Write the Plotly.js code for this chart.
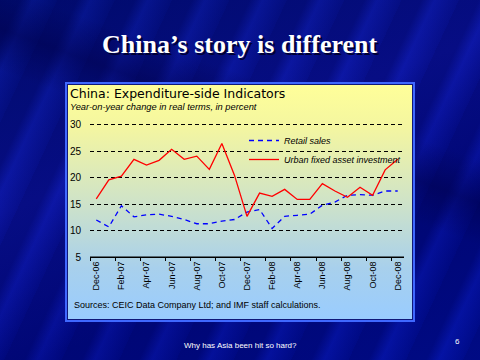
<!DOCTYPE html>
<html>
<head>
<meta charset="utf-8">
<script src="https://cdn.plot.ly/plotly-3.0.1.min.js"></script>
<style>
  html, body { margin:0; padding:0; width:480px; height:360px; overflow:hidden; }
  #slide { position:absolute; left:0; top:0; width:480px; height:360px;
    background:
      linear-gradient(200deg, rgba(0,0,60,0) 0%, rgba(0,0,60,0) 30%, rgba(0,0,70,0.45) 38%, rgba(0,0,60,0) 46%, rgba(0,0,60,0) 100%),
      repeating-linear-gradient(115deg, rgba(0,0,80,0.35) 0px, rgba(0,0,80,0.35) 18px, rgba(30,40,200,0.15) 30px, rgba(0,0,80,0.25) 52px),
      linear-gradient(160deg, #00107a 0%, #0a14a0 40%, #000a8a 70%, #0010a0 100%);
  }
  #panel { position:absolute; left:65px; top:82px; width:346px; height:236px;
    border:2px solid #3f68ff; box-shadow: inset 0 0 0 1px #10187a;
    background: linear-gradient(180deg, #ffff99 0%, #f4f6a0 18%, #cfe3c8 50%, #a8d0ec 78%, #99ccff 100%);
  }
  #chart { position:absolute; left:0; top:0; width:480px; height:360px; }
</style>
</head>
<body>
<div id="slide"></div>
<div id="panel"></div>
<div id="chart"></div>
<script>
const months = ["Dec-06","Jan-07","Feb-07","Mar-07","Apr-07","May-07","Jun-07","Jul-07","Aug-07","Sep-07","Oct-07","Nov-07","Dec-07",
                "Jan-08","Feb-08","Mar-08","Apr-08","May-08","Jun-08","Jul-08","Aug-08","Sep-08","Oct-08","Nov-08","Dec-08"];
const retailSales = [12.0,10.7,14.7,12.6,13.0,13.1,12.7,12.1,11.3,11.3,11.8,12.1,13.5,
                     14.0,10.4,12.7,12.9,13.1,14.8,15.4,16.7,16.8,16.7,17.5,17.5];
const urbanFAI = [16.0,19.6,20.3,23.5,22.4,23.3,25.4,23.5,24.1,21.6,26.5,20.5,12.7,
                  17.1,16.5,17.8,15.9,15.9,18.9,17.5,16.3,18.2,16.7,21.5,23.5];
const yTicks = [5,10,15,20,25,30];

const W = 480, H = 360;
const px = x => x / W, py = y => 1 - y / H;

const traces = [
  { x: months, y: retailSales, name: "Retail sales", type: "scatter", mode: "lines",
    line: { color: "#0000ff", width: 1.3, dash: "5px,4px" } },
  { x: months, y: urbanFAI, name: "Urban fixed asset investment", type: "scatter", mode: "lines",
    line: { color: "#ff0000", width: 1.3 } }
];

const layout = {
  width: W, height: H,
  margin: { l: 0, r: 0, t: 0, b: 0 },
  paper_bgcolor: "rgba(0,0,0,0)", plot_bgcolor: "rgba(0,0,0,0)",
  showlegend: true,
  legend: { x: px(244), y: py(126), xref: "paper", yref: "paper", xanchor: "left", yanchor: "top",
            bgcolor: "rgba(0,0,0,0)", font: { family: "Liberation Sans, Arial", size: 9, style: "italic", color: "#000" },
            itemwidth: 30, tracegroupgap: 0 },
  xaxis: {
    domain: [px(90), px(404)], type: "category", categoryorder: "array", categoryarray: months,
    range: [-0.5, 24.5], dtick: 2, tickson: "boundaries", ticks: "outside", ticklen: 3, tickcolor: "#000",
    tickangle: -90, showline: true, linecolor: "#000", linewidth: 1, showgrid: false, zeroline: false,
    tickfont: { family: "Liberation Sans, Arial", size: 9, color: "#000" }, fixedrange: true
  },
  yaxis: {
    domain: [py(257), py(121.8)], range: [5, 30.6], tickvals: yTicks, ticktext: yTicks.map(String),
    showline: false, ticks: "", showgrid: true, gridcolor: "#000", gridwidth: 1, griddash: "4px,3px",
    zeroline: false, ticklabelstandoff: 8,
    tickfont: { family: "Liberation Sans, Arial", size: 10, color: "#000" }, fixedrange: true
  },
  shapes: [
    { type: "line", xref: "paper", yref: "y", x0: px(90), x1: px(404), y0: 5, y1: 5, line: { color: "#000", width: 1 } },
    { type: "rect", layer: "between", xref: "paper", yref: "paper", x0: px(247), x1: px(406), y0: py(154), y1: py(149.5),
      fillcolor: "rgb(232,240,173)", line: { width: 0 } }
  ],
  annotations: [
    { text: "<b>China’s story is different</b>", x: px(240), y: py(44), xref: "paper", yref: "paper",
      showarrow: false, xanchor: "center", yanchor: "middle",
      font: { family: "Liberation Serif, Times New Roman", size: 26, color: "#ffffff", shadow: "2px 2px 0px #000033" } },
    { text: "China: Expenditure-side Indicators", x: px(68), y: py(94), xref: "paper", yref: "paper",
      showarrow: false, xanchor: "left", yanchor: "middle",
      font: { family: "DejaVu Sans, Verdana", size: 12.5, color: "#000" } },
    { text: "<i>Year-on-year change in real terms, in percent</i>", x: px(68), y: py(107), xref: "paper", yref: "paper",
      showarrow: false, xanchor: "left", yanchor: "middle",
      font: { family: "Liberation Sans, Arial", size: 9.3, color: "#000" } },
    { text: "Sources: CEIC Data Company Ltd; and IMF staff calculations.", x: px(72), y: py(305), xref: "paper", yref: "paper",
      showarrow: false, xanchor: "left", yanchor: "middle",
      font: { family: "Liberation Sans, Arial", size: 9, color: "#000" } },
    { text: "Why has Asia been hit so hard?", x: px(240), y: py(345), xref: "paper", yref: "paper",
      showarrow: false, xanchor: "center", yanchor: "middle",
      font: { family: "Liberation Sans, Arial", size: 8, color: "#ffffff" } },
    { text: "6", x: px(457), y: py(341), xref: "paper", yref: "paper",
      showarrow: false, xanchor: "center", yanchor: "middle",
      font: { family: "Liberation Sans, Arial", size: 8, color: "#ffffff" } }
  ]
};

Plotly.newPlot("chart", traces, layout, { displayModeBar: false, staticPlot: true });
</script>
</body>
</html>
